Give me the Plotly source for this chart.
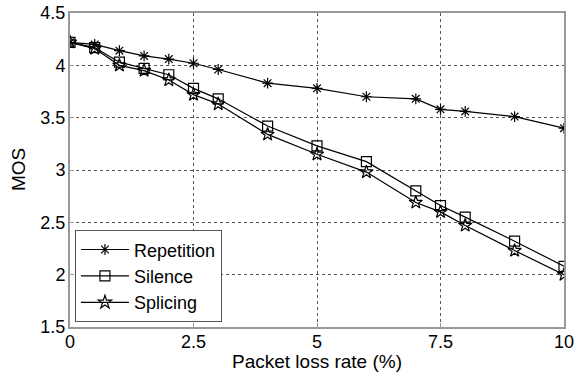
import plotly.graph_objects as go

loss_rate = [0, 0.5, 1, 1.5, 2, 2.5, 3, 4, 5, 6, 7, 7.5, 8, 9, 10]
repetition = [4.22, 4.20, 4.14, 4.09, 4.06, 4.02, 3.96, 3.83, 3.78, 3.70, 3.68, 3.58, 3.56, 3.51, 3.40]
silence = [4.22, 4.17, 4.03, 3.97, 3.91, 3.78, 3.68, 3.42, 3.23, 3.08, 2.80, 2.66, 2.55, 2.32, 2.08]
splicing = [4.22, 4.16, 4.00, 3.95, 3.86, 3.72, 3.63, 3.34, 3.15, 2.98, 2.69, 2.60, 2.47, 2.23, 2.00]

x_ticks = [0, 2.5, 5, 7.5, 10]
x_tick_text = ["0", "2.5", "5", "7.5", "10"]
y_ticks = [1.5, 2, 2.5, 3, 3.5, 4, 4.5]
y_tick_text = ["1.5", "2", "2.5", "3", "3.5", "4", "4.5"]

series = [
    ("Repetition", repetition, "asterisk-open", 9),
    ("Silence", silence, "square-open", 10),
    ("Splicing", splicing, "star-open", 10),
]

fig = go.Figure()
for name, vals, sym, size in series:
    fig.add_trace(go.Scatter(
        x=loss_rate, y=vals, name=name, mode="lines+markers",
        line=dict(color="black", width=1.2),
        marker=dict(symbol=sym, size=size, color="black",
                    line=dict(color="black", width=1.2)),
    ))

font = "Liberation Sans, Arial, sans-serif"
fig.update_layout(
    width=574, height=374,
    margin=dict(l=70, r=10, t=13, b=47),
    paper_bgcolor="white", plot_bgcolor="white",
    font=dict(family=font, size=19, color="black"),
    showlegend=True,
    legend=dict(
        x=0.01, y=0.015, xanchor="left", yanchor="bottom",
        bgcolor="white", bordercolor="#555555", borderwidth=1,
        font=dict(size=18), tracegroupgap=0, itemwidth=48,
    ),
)
grid = dict(showgrid=True, gridcolor="#555555", gridwidth=1, griddash="dot",
            showline=True, linecolor="#999999", linewidth=2, mirror=True,
            zeroline=False, ticks="inside", ticklen=4, tickcolor="#999999",
            automargin=False, ticklabeloverflow="allow", tickfont=dict(size=18))
fig.update_xaxes(range=[0, 10], tickvals=x_ticks, ticktext=x_tick_text,
                 ticklabelstandoff=-3, **grid)
fig.update_yaxes(range=[1.5, 4.5], tickvals=y_ticks, ticktext=y_tick_text,
                 ticklabelstandoff=-1, **grid)

# axis titles placed relative to the plotting area
fig.add_annotation(text="Packet loss rate (%)", xref="paper", yref="paper",
                   x=0.5, y=0, yshift=-34, xanchor="center", yanchor="middle",
                   showarrow=False, font=dict(size=19))
fig.add_annotation(text="MOS", xref="paper", yref="paper", textangle=-90,
                   x=0, y=0.5, xshift=-52, xanchor="center", yanchor="middle",
                   showarrow=False, font=dict(size=19))

fig.write_html("out.html")
